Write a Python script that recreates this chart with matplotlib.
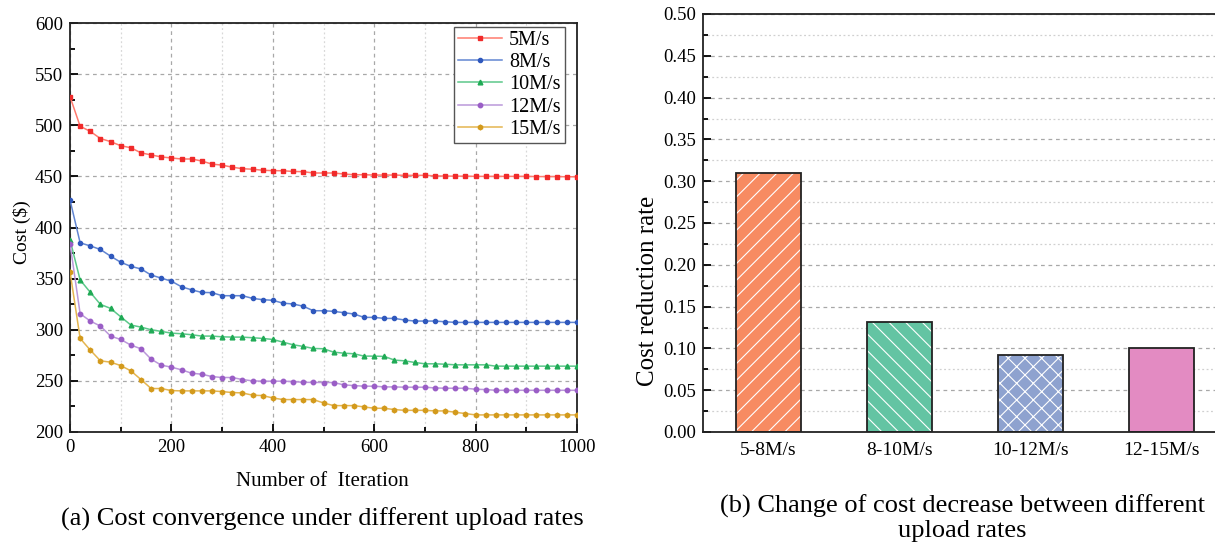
import numpy as np
import matplotlib
matplotlib.use("Agg")
import matplotlib.pyplot as plt
from matplotlib.ticker import MultipleLocator

plt.rcParams['font.family'] = ['Liberation Serif', 'DejaVu Serif']
plt.rcParams['mathtext.fontset'] = 'stix'
plt.rcParams['hatch.linewidth'] = 0.8

# ---------------- data ----------------
iterations = np.arange(0, 1001, 20)

cost_5 = [528, 499, 494, 487, 484, 480, 478, 473, 471, 469, 468, 467, 467, 465, 462,
          461, 459, 457.5, 457, 456, 455.6, 455.5, 454.8, 454.6, 453.3, 453.3, 453.3,
          452.3, 451.6, 451.6, 451.3, 451.3, 451.3, 451, 451, 451, 450.5, 450.3, 450.2,
          450.2, 450, 450, 450, 450, 450, 450, 449.8, 449.8, 449.8, 449.6, 449.6]
cost_8 = [427, 385, 382, 378.5, 372, 366, 362, 359.5, 353.5, 350.5, 347.5, 342, 339,
          336.5, 336.3, 333.3, 333.3, 333.3, 330.7, 329.4, 328.8, 326, 325.2, 323,
          318.6, 318.6, 318, 316.7, 315.4, 312.1, 312.1, 311.1, 311.1, 309.5, 308.5,
          308.5, 308.5, 307.8, 307.2, 307.2, 307.2, 307.2, 307.2, 307.2, 307.2, 307.2,
          307.2, 307.2, 307.2, 307.2, 307.2]
cost_10 = [387.9, 348.7, 336.6, 324.8, 320.9, 312.7, 304.6, 302.6, 300, 298.4, 296.7,
           296.1, 295.1, 293.8, 293.8, 293.1, 292.8, 292.8, 292.2, 291.5, 290.5, 287.9,
           285.3, 283.7, 281.7, 281.4, 278.1, 277.1, 276.5, 274.2, 274.2, 273.9, 270.3,
           269.6, 268, 266.7, 266.7, 266.3, 265.7, 265.7, 265.7, 265.7, 264.4, 264.4,
           264.4, 264.4, 264.4, 264.4, 264.4, 264.4, 264.4]
cost_12 = [384.3, 315.7, 308.5, 303.6, 293.8, 290.5, 285, 281.4, 271.2, 265.4, 263.4,
           260.8, 257.5, 256.5, 254.2, 253.3, 253.3, 251.3, 250, 249.7, 249.7, 249.7,
           249.3, 248.6, 248.5, 248.4, 248.4, 246.1, 245.4, 244.8, 244.8, 244.1, 244.1,
           243.8, 243.8, 243.8, 243.1, 242.8, 242.8, 242.8, 241.8, 241.5, 240.8, 240.8,
           240.8, 240.8, 240.8, 240.8, 240.8, 240.8, 240.8]
cost_15 = [356.9, 291.5, 280.1, 269.6, 268.3, 265, 259.8, 251.3, 242.5, 242.5, 240.5,
           240.2, 240.2, 240.2, 240.2, 239.5, 238.6, 238.2, 236, 235.6, 233.3, 231.7,
           231.7, 231.7, 231.7, 228.4, 225.8, 225.8, 225.8, 224.5, 223.2, 223.2, 221.9,
           221.2, 221.2, 221.2, 220.6, 220.6, 219.3, 218, 216.7, 216.7, 216.7, 216.7,
           216.7, 216.7, 216.7, 216.7, 216.7, 216.7, 216.7]

series_labels = ['5M/s', '8M/s', '10M/s', '12M/s', '15M/s']

bar_categories = ['5-8M/s', '8-10M/s', '10-12M/s', '12-15M/s']
bar_values = [0.31, 0.131, 0.0925, 0.1005]

# ---------------- figure ----------------
fig = plt.figure(figsize=(12.15, 5.46), dpi=100)

# ----- left panel -----
ax1 = fig.add_axes([70 / 1215, 1 - 432 / 546, (577 - 70) / 1215, (432 - 23) / 546])

styles = [
    dict(color='#ff7a6e', mfc='#f02a2a', mec='#f02a2a', marker='s', ms=2.8),
    dict(color='#6286d2', mfc='#2f58bd', mec='#2f58bd', marker='o', ms=3.0),
    dict(color='#5cc88a', mfc='#1faa55', mec='#1faa55', marker='^', ms=3.4),
    dict(color='#bb98da', mfc='#9a5ec6', mec='#9a5ec6', marker='o', ms=3.2),
    dict(color='#e4b550', mfc='#d39a1c', mec='#d39a1c', marker='h', ms=3.4),
]
for vals, lab, st in zip([cost_5, cost_8, cost_10, cost_12, cost_15], series_labels, styles):
    ax1.plot(iterations, vals, lw=1.1, label=lab, zorder=3, **st)

ax1.set_xlim(0, 1000)
ax1.set_ylim(200, 600)
ax1.xaxis.set_major_locator(MultipleLocator(200))
ax1.xaxis.set_minor_locator(MultipleLocator(100))
ax1.yaxis.set_major_locator(MultipleLocator(50))
ax1.yaxis.set_minor_locator(MultipleLocator(25))
ax1.grid(which='major', axis='both', color='#a8a8a8', ls=(0, (3, 3)), lw=0.9)
ax1.grid(which='minor', axis='x', color='#d8d8d8', ls=(0, (1.5, 2)), lw=0.9)
ax1.set_axisbelow(True)
ax1.tick_params(which='major', direction='in', length=6, width=1.3, labelsize=13.5,
                pad=5)
ax1.tick_params(which='minor', direction='in', length=3.5, width=1.3)
for s in ax1.spines.values():
    s.set_linewidth(1.3)
    s.set_color('#222222')

leg = ax1.legend(loc='upper right', bbox_to_anchor=(0.976, 0.99), fontsize=14.5,
                 frameon=True, fancybox=False, edgecolor='#555555', framealpha=1,
                 handlelength=2.2, borderpad=0.2, labelspacing=0.15,
                 handletextpad=0.35, borderaxespad=0)
leg.get_frame().set_linewidth(1.0)

fig.text(322 / 1215, 1 - 481 / 546, 'Number of  Iteration', ha='center', va='center',
         fontsize=15)
fig.text(22 / 1215, 1 - 232 / 546, 'Cost ($)', ha='center', va='center',
         rotation=90, fontsize=14)
fig.text(322 / 1215, 1 - 519 / 546, '(a) Cost convergence under different upload rates',
         ha='center', va='center', fontsize=19)

# ----- right panel -----
ax2 = fig.add_axes([703 / 1215, 1 - 432 / 546, (1227 - 703) / 1215, (432 - 14) / 546])
colors = ['#f78b62', '#63c4a3', '#8ea2cf', '#e38bc2']
hatches = ['//', '\\\\', 'xx', '']
xpos = np.arange(len(bar_categories))
for x, v, c, h in zip(xpos, bar_values, colors, hatches):
    ax2.bar(x, v, width=0.5, color=c, edgecolor='white', hatch=h, linewidth=0,
            zorder=2)
    ax2.bar(x, v, width=0.5, fill=False, edgecolor='#222222', linewidth=1.3, zorder=3)

ax2.set_xlim(-0.5, 3.5)
ax2.set_ylim(0, 0.5)
ax2.set_xticks(xpos)
ax2.set_xticklabels(bar_categories)
ax2.yaxis.set_major_locator(MultipleLocator(0.05))
ax2.yaxis.set_minor_locator(MultipleLocator(0.025))
ax2.yaxis.set_major_formatter(matplotlib.ticker.FormatStrFormatter('%.2f'))
ax2.grid(which='major', axis='y', color='#a8a8a8', ls=(0, (3, 3)), lw=0.9)
ax2.grid(which='minor', axis='y', color='#d0d0d0', ls=(0, (1.5, 2)), lw=0.9)
ax2.set_axisbelow(True)
ax2.tick_params(axis='y', which='major', direction='in', length=6, width=1.3,
                labelsize=13.5, pad=5)
ax2.tick_params(axis='y', which='minor', direction='in', length=3.5, width=1.3)
ax2.tick_params(axis='x', length=0, labelsize=14, pad=7)
for s in ax2.spines.values():
    s.set_linewidth(1.3)
    s.set_color('#222222')

fig.text(648 / 1215, 1 - 291 / 546, 'Cost reduction rate', ha='center', va='center',
         rotation=90, fontsize=18)
fig.text(962 / 1215, 1 - 518 / 546,
         '(b) Change of cost decrease between different\nupload rates',
         ha='center', va='center', fontsize=19, linespacing=1.1)

fig.savefig('out.png', dpi=100)
